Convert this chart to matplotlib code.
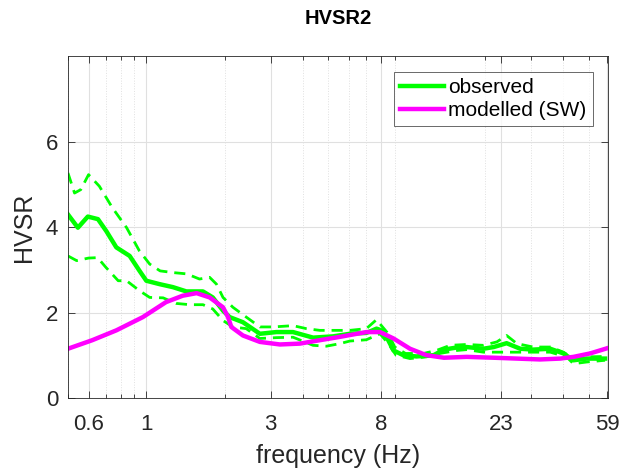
import matplotlib
matplotlib.use('Agg')
import matplotlib.pyplot as plt
from matplotlib.ticker import FixedLocator, NullFormatter, LogLocator

plt.rcParams['font.family'] = ['Liberation Sans', 'DejaVu Sans']

# ── data ─────────────────────────────────────────────────────────────────────
obs_f = [0.5, 0.546, 0.596, 0.652, 0.702, 0.767, 0.863, 0.942, 1.0, 1.125, 1.266,
         1.425, 1.65, 1.80, 1.97, 2.09, 2.35, 2.73, 3.16, 3.66, 4.37, 5.22, 6.05,
         7.0, 7.66, 8.0, 8.38, 8.9, 9.7, 10.9, 12.7, 13.9, 15.6, 17.0, 19.7, 21.6,
         24.2, 27.3, 30.6, 35.6, 40.0, 43.7, 49.1, 57.8]
obs_v = [4.30, 3.99, 4.25, 4.19, 3.91, 3.53, 3.33, 2.98, 2.75, 2.67, 2.60,
         2.50, 2.50, 2.36, 2.05, 1.90, 1.78, 1.51, 1.55, 1.55, 1.42, 1.45, 1.51,
         1.53, 1.63, 1.59, 1.43, 1.12, 1.01, 0.98, 1.01, 1.14, 1.19, 1.20, 1.16, 1.20,
         1.29, 1.16, 1.14, 1.16, 1.05, 0.89, 0.93, 0.93]

up_f = [0.5, 0.53, 0.56, 0.6, 0.66, 0.74, 0.84, 0.94, 1.03, 1.13, 1.27, 1.43,
        1.60, 1.75, 1.86, 1.97, 2.15, 2.42, 2.73, 3.07, 3.66, 4.12, 4.64, 5.2,
        6.05, 7.0, 7.66, 8.0, 8.5, 9.0, 9.9, 11.6, 13.0, 14.7, 17.0, 19.7, 22.2,
        24.2, 26.5, 30.6, 35.6, 40.0, 43.7, 49.1, 57.8]
up_v = [5.27, 4.80, 4.88, 5.23, 4.96, 4.46, 3.99, 3.45, 3.14, 2.98, 2.94, 2.91,
        2.79, 2.83, 2.67, 2.36, 2.13, 1.90, 1.67, 1.67, 1.70, 1.63, 1.59, 1.59,
        1.59, 1.63, 1.84, 1.70, 1.51, 1.20, 1.05, 1.05, 1.12, 1.24, 1.26, 1.24, 1.32,
        1.47, 1.28, 1.20, 1.20, 1.08, 0.93, 0.97, 0.98]

lo_f = [0.5, 0.54, 0.6, 0.65, 0.70, 0.78, 0.84, 0.94, 1.03, 1.16, 1.30, 1.47,
        1.65, 1.80, 1.97, 2.15, 2.42, 2.73, 3.16, 3.66, 4.37, 4.92, 5.54, 6.05,
        7.0, 7.9, 8.5, 9.1, 10.3, 11.9, 13.4, 15.6, 17.0, 19.7, 22.9, 26.5, 30.6,
        35.6, 41.1, 43.7, 49.1, 57.8]
lo_v = [3.33, 3.22, 3.28, 3.29, 3.06, 2.75, 2.75, 2.52, 2.36, 2.35, 2.22, 2.19,
        2.19, 2.09, 1.82, 1.67, 1.63, 1.40, 1.42, 1.43, 1.24, 1.22, 1.28, 1.34,
        1.37, 1.51, 1.28, 1.01, 0.93, 0.97, 1.05, 1.12, 1.14, 1.08, 1.08, 1.08, 1.08,
        1.08, 0.97, 0.81, 0.85, 0.89]

mod_f = [0.5, 0.62, 0.767, 0.97, 1.19, 1.38, 1.56, 1.75, 1.97, 2.06, 2.12, 2.35,
         2.73, 3.26, 3.89, 4.64, 5.45, 7.0, 7.9, 8.9, 10.3, 11.9, 13.9, 17.0,
         21.6, 26.5, 32.5, 38.9, 43.7, 50.6, 59.5]
mod_v = [1.16, 1.36, 1.59, 1.90, 2.25, 2.40, 2.46, 2.36, 2.13, 1.90, 1.67, 1.47,
         1.32, 1.26, 1.28, 1.36, 1.43, 1.55, 1.55, 1.40, 1.16, 1.01, 0.95, 0.97,
         0.95, 0.93, 0.91, 0.93, 0.97, 1.05, 1.18]

xticks = [0.6, 1, 3, 8, 23, 59]
xtick_labels = ['0.6', '1', '3', '8', '23', '59']
yticks = [0, 2, 4, 6]

GREEN = '#00FF00'
MAGENTA = '#FF00FF'
DARK = '#262626'

# ── figure ───────────────────────────────────────────────────────────────────
fig = plt.figure(figsize=(6.35, 4.72), dpi=100)
ax = fig.add_axes([0.107, 0.156, 0.851, 0.725])

ax.plot(up_f, up_v, color=GREEN, linestyle=(0, (4, 2.5)), linewidth=2)
ax.plot(lo_f, lo_v, color=GREEN, linestyle=(0, (4, 2.5)), linewidth=2)
ax.plot(obs_f, obs_v, color=GREEN, linewidth=3.2, label='observed')
ax.plot(mod_f, mod_v, color=MAGENTA, linewidth=3.2, label='modelled (SW)')

ax.set_xscale('log')
ax.set_xlim(0.5, 59.5)
ax.set_ylim(0, 8)
ax.xaxis.set_major_locator(FixedLocator(xticks))
ax.set_xticklabels(xtick_labels)
ax.xaxis.set_minor_locator(LogLocator(base=10, subs=range(2, 10)))
ax.xaxis.set_minor_formatter(NullFormatter())
ax.set_yticks(yticks)

ax.grid(True, which='major', color='#e0e0e0', linewidth=0.8)
ax.grid(True, which='minor', axis='x', color='#e0e0e0', linewidth=0.7, linestyle=':')
ax.set_axisbelow(True)

ax.tick_params(which='both', direction='in', top=True, right=True,
               labelsize=16, colors=DARK, width=0.6)
ax.tick_params(which='major', length=5)
ax.tick_params(axis='x', which='major', pad=11)
ax.tick_params(axis='y', which='major', pad=7)
ax.tick_params(which='minor', length=3)
for sp in ax.spines.values():
    sp.set_color(DARK)
    sp.set_linewidth(0.6)

ax.set_xlabel('frequency (Hz)', fontsize=18, color=DARK, labelpad=7)
ax.set_ylabel('HVSR', fontsize=18, color=DARK, labelpad=7)
ax.set_title('HVSR2', fontsize=14.5, fontweight='bold', pad=23)

leg = ax.legend(loc='upper right', fontsize=15, frameon=True, fancybox=False,
                edgecolor=DARK, handlelength=2.1, handletextpad=0.2,
                borderpad=0.3, labelspacing=0.2, borderaxespad=0.75)
leg.get_frame().set_linewidth(0.6)

fig.savefig('out.png', dpi=100)
